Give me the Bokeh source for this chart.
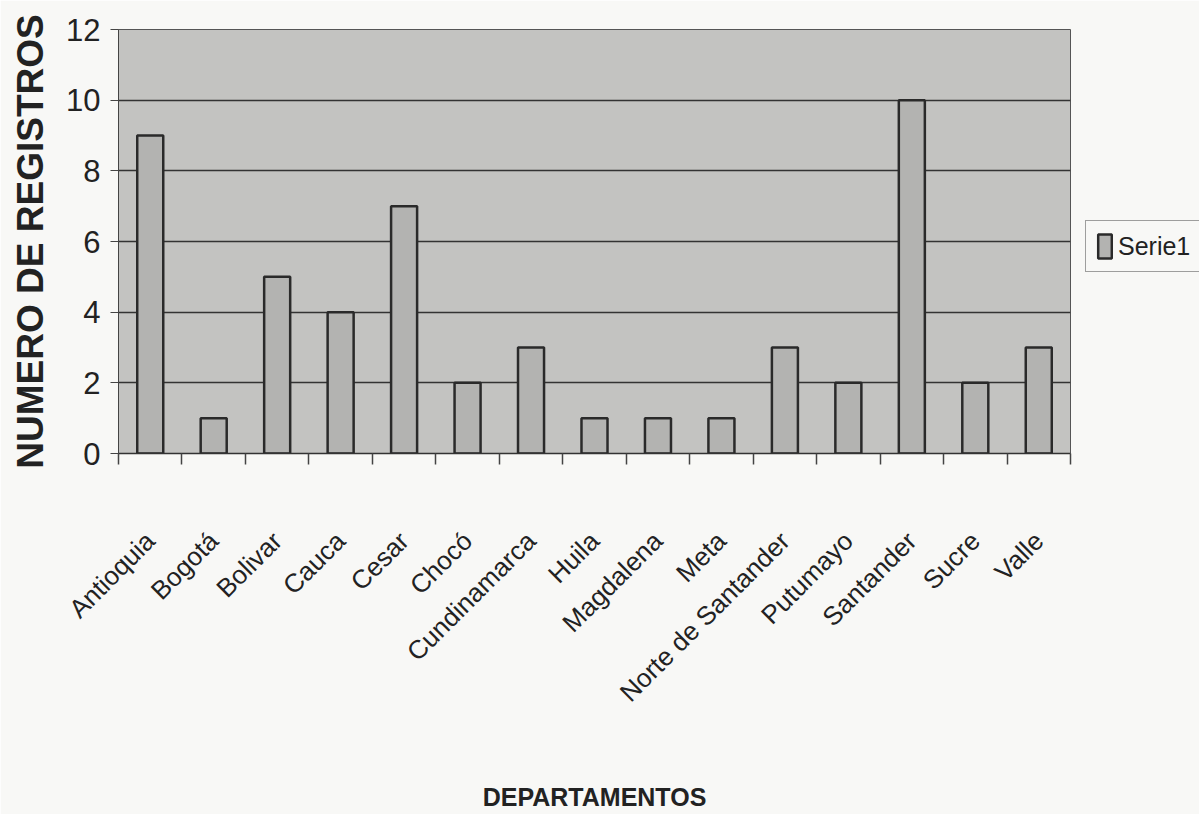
from bokeh.plotting import figure
from bokeh.models import FixedTicker, Legend, LegendItem, ColumnDataSource
from bokeh.embed import file_html
from bokeh.resources import INLINE
import math

departamentos = ["Antioquia", "Bogotá", "Bolivar", "Cauca", "Cesar", "Chocó",
                 "Cundinamarca", "Huila", "Magdalena", "Meta", "Norte de Santander",
                 "Putumayo", "Santander", "Sucre", "Valle"]
registros = [9, 1, 5, 4, 7, 2, 3, 1, 1, 1, 3, 2, 10, 2, 3]
y_ticks = [0, 2, 4, 6, 8, 10, 12]
serie_name = "Serie1"

FONT = "Liberation Sans, Arial, sans-serif"

centers = [i + 0.5 for i in range(len(departamentos))]
bounds = list(range(len(departamentos) + 1))
src = ColumnDataSource(dict(x=centers, top=registros, name=departamentos))

p = figure(frame_width=952, frame_height=424, width=1197, height=813,
           min_border_left=118, min_border_right=127, min_border_top=29, min_border_bottom=360,
           x_range=(0, len(departamentos)), y_range=(0, 12),
           output_backend="svg", toolbar_location=None)

p.background_fill_color = "#c3c3c1"
p.border_fill_color = "#f8f8f6"
p.outline_line_color = "#555555"
p.outline_line_width = 1

r = p.vbar(x="x", top="top", width=0.41, bottom=0, source=src,
           fill_color="#b3b3b1", line_color="#2a2a2a", line_width=2.5)

# grid
p.xgrid.visible = False
p.ygrid.ticker = FixedTicker(ticks=y_ticks)
p.ygrid.grid_line_color = "#333333"
p.ygrid.grid_line_width = 1.5

# y axis
p.yaxis.ticker = FixedTicker(ticks=y_ticks)
p.yaxis.major_tick_out = 8
p.yaxis.major_tick_in = 0
p.yaxis.minor_tick_line_color = None
p.yaxis.axis_line_color = "#444444"
p.yaxis.major_tick_line_color = "#444444"
p.yaxis.major_label_text_font = FONT
p.yaxis.major_label_text_font_size = "31px"
p.yaxis.major_label_text_color = "#222222"
p.yaxis.major_label_standoff = 10
p.yaxis.axis_label = "NUMERO DE REGISTROS"
p.yaxis.axis_label_text_font = FONT
p.yaxis.axis_label_text_font_style = "bold"
p.yaxis.axis_label_text_font_size = "37px"
p.yaxis.axis_label_text_color = "#222222"
p.yaxis.axis_label_standoff = 12

# x axis
p.xaxis.ticker = FixedTicker(ticks=centers, minor_ticks=bounds)
p.xaxis.major_label_overrides = {c: n for c, n in zip(centers, departamentos)}
p.xaxis.major_tick_line_color = None
p.xaxis.major_tick_out = 0
p.xaxis.major_tick_in = 0
p.xaxis.minor_tick_out = 11
p.xaxis.minor_tick_in = 0
p.xaxis.minor_tick_line_color = "#444444"
p.xaxis.minor_tick_line_width = 1.5
p.xaxis.axis_line_color = "#333333"
p.xaxis.axis_line_width = 1.5
p.xaxis.major_label_orientation = math.pi / 4
p.xaxis.major_label_text_font = FONT
p.xaxis.major_label_text_font_size = "26px"
p.xaxis.major_label_text_color = "#222222"
p.xaxis.major_label_standoff = 72
p.xaxis.axis_label = "DEPARTAMENTOS"
p.xaxis.axis_label_text_font = FONT
p.xaxis.axis_label_text_font_style = "bold"
p.xaxis.axis_label_text_font_size = "25px"
p.xaxis.axis_label_text_color = "#222222"
p.xaxis.axis_label_standoff = 62

legend = Legend(items=[LegendItem(label=serie_name, renderers=[r])],
                location=(15, 181), orientation="vertical",
                label_text_font=FONT, label_text_font_size="25px",
                label_text_color="#222222",
                glyph_width=17, glyph_height=30, padding=10, spacing=0, margin=0,
                label_standoff=5,
                border_line_color="#444444", border_line_width=1.5,
                background_fill_color="#f8f8f6", background_fill_alpha=1.0)
p.add_layout(legend, "right")

open("out.html", "w").write(file_html(p, INLINE))
